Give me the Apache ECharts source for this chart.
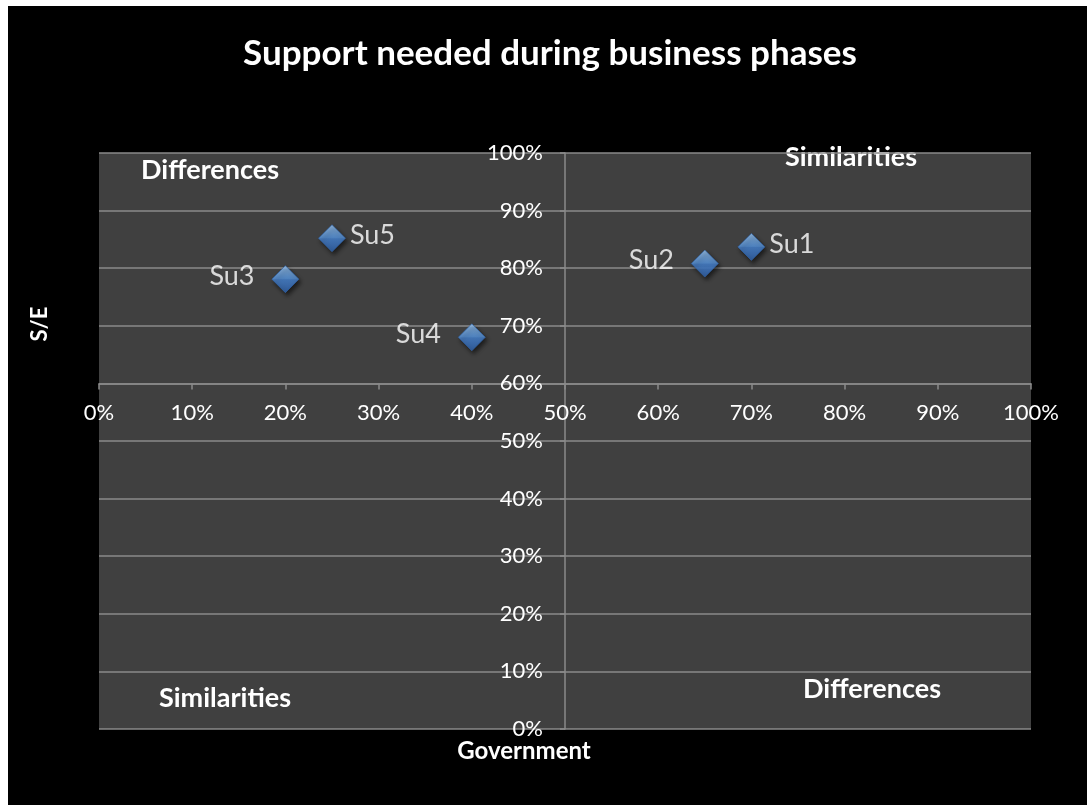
<!DOCTYPE html>
<html>
<head>
<meta charset="utf-8">
<title>Support needed during business phases</title>
<script src="https://cdn.jsdelivr.net/npm/echarts@6/dist/echarts.min.js"></script>
<style>
  html, body { margin: 0; padding: 0; background: #ffffff; }
  #chart { position: absolute; left: 8px; top: 6px; width: 1079px; height: 799px; background: #000000; }
</style>
</head>
<body>
<div id="chart"></div>
<script>
// Start-ups: share of support from government (x) and from S/E (y)
const startups   = ['Su1', 'Su2', 'Su3', 'Su4', 'Su5'];
const government = [0.70, 0.65, 0.20, 0.40, 0.25];
const supportSE  = [0.837, 0.808, 0.781, 0.680, 0.852];

// Axis ranges and the point where the axes cross
const axisMin = 0;
const axisMax = 1;
const axisStep = 0.1;
const crossX = 0.5;   // y axis sits at 50% government
const crossY = 0.6;   // x axis sits at 60% S/E

// Quadrant captions
const quadrantTexts = ['Differences', 'Similarities', 'Similarities', 'Differences'];

const FONT = 'Lato, "Open Sans", sans-serif';
const grid = { left: 91, top: 147, width: 932, height: 576 };

// Labels to the right for the two points at the top edge of their clusters
const rightLabelled = { Su1: true, Su5: true };

const chart = echarts.init(document.getElementById('chart'), null, { renderer: 'canvas' });

const pct = v => Math.round(v * 100) + '%';
const gridColor = '#8a8a8a';

const markerFill = new echarts.graphic.LinearGradient(0, 0, 0, 1, [
  { offset: 0, color: '#9ccaf8' },
  { offset: 0.48, color: '#5b9be6' },
  { offset: 0.52, color: '#4a88d8' },
  { offset: 1, color: '#3368b5' }
]);

const pointData = startups.map((name, i) => {
  const right = !!rightLabelled[name];
  return {
    name: name,
    value: [government[i], supportSE[i]],
    label: {
      position: right ? 'right' : 'left',
      distance: right ? 4 : 17,
      offset: [0, -3]
    }
  };
});

const option = {
  backgroundColor: '#000000',
  animation: false,
  grid: Object.assign({
    show: true,
    backgroundColor: '#404040',
    borderWidth: 0
  }, grid),
  xAxis: {
    type: 'value',
    min: axisMin,
    max: axisMax,
    interval: axisStep,
    position: 'bottom',
    offset: -(grid.height * (crossY - axisMin) / (axisMax - axisMin)),
    axisLine: { show: true, onZero: false, lineStyle: { color: gridColor, width: 1.5 } },
    axisTick: { show: true, inside: false, length: 6, lineStyle: { color: gridColor, width: 1.5 } },
    axisLabel: { color: '#ffffff', fontSize: 22, fontFamily: FONT, margin: 19, formatter: pct },
    splitLine: { show: false }
  },
  yAxis: {
    type: 'value',
    min: axisMin,
    max: axisMax,
    interval: axisStep,
    position: 'left',
    offset: -(grid.width * (crossX - axisMin) / (axisMax - axisMin)),
    axisLine: { show: true, onZero: false, lineStyle: { color: gridColor, width: 1.5 } },
    axisTick: { show: true, inside: false, length: 5, lineStyle: { color: gridColor, width: 1.5 } },
    axisLabel: { color: '#ffffff', fontSize: 22, fontFamily: FONT, margin: 22, formatter: pct },
    splitLine: { show: true, lineStyle: { color: gridColor, width: 1.5 } }
  },
  series: [{
    type: 'scatter',
    symbol: 'diamond',
    symbolSize: 27,
    data: pointData,
    itemStyle: {
      color: markerFill,
      borderColor: '#2f64ad',
      borderWidth: 0.8,
      shadowBlur: 4,
      shadowColor: 'rgba(0,0,0,0.7)',
      shadowOffsetX: 2,
      shadowOffsetY: 3
    },
    label: {
      show: true,
      formatter: '{b}',
      color: '#ffffff',
      fontSize: 27,
      fontFamily: FONT
    },
    z: 5
  }],
  graphic: [
    {
      type: 'text', x: 542, y: 48,
      style: { text: 'Support needed during business phases', fill: '#ffffff',
               font: 'bold 35px ' + FONT, align: 'center', verticalAlign: 'middle',
               textAlign: 'center', textVerticalAlign: 'middle' }
    },
    {
      type: 'text', x: 202, y: 164,
      style: { text: quadrantTexts[0], fill: '#ffffff', font: 'bold 27px ' + FONT,
               align: 'center', verticalAlign: 'middle', textAlign: 'center', textVerticalAlign: 'middle' }
    },
    {
      type: 'text', x: 843, y: 151,
      style: { text: quadrantTexts[1], fill: '#ffffff', font: 'bold 27px ' + FONT,
               align: 'center', verticalAlign: 'middle', textAlign: 'center', textVerticalAlign: 'middle' }
    },
    {
      type: 'text', x: 217, y: 692,
      style: { text: quadrantTexts[2], fill: '#ffffff', font: 'bold 27px ' + FONT,
               align: 'center', verticalAlign: 'middle', textAlign: 'center', textVerticalAlign: 'middle' }
    },
    {
      type: 'text', x: 864, y: 683,
      style: { text: quadrantTexts[3], fill: '#ffffff', font: 'bold 27px ' + FONT,
               align: 'center', verticalAlign: 'middle', textAlign: 'center', textVerticalAlign: 'middle' }
    },
    {
      type: 'text', x: 516, y: 745,
      style: { text: 'Government', fill: '#ffffff', font: 'bold 24px ' + FONT,
               align: 'center', verticalAlign: 'middle', textAlign: 'center', textVerticalAlign: 'middle' }
    },
    {
      type: 'text', x: 32, y: 318, rotation: Math.PI / 2,
      style: { text: 'S/E', fill: '#ffffff', font: 'bold 22px ' + FONT,
               align: 'center', verticalAlign: 'middle', textAlign: 'center', textVerticalAlign: 'middle' }
    }
  ]
};

chart.setOption(option);
</script>
</body>
</html>
